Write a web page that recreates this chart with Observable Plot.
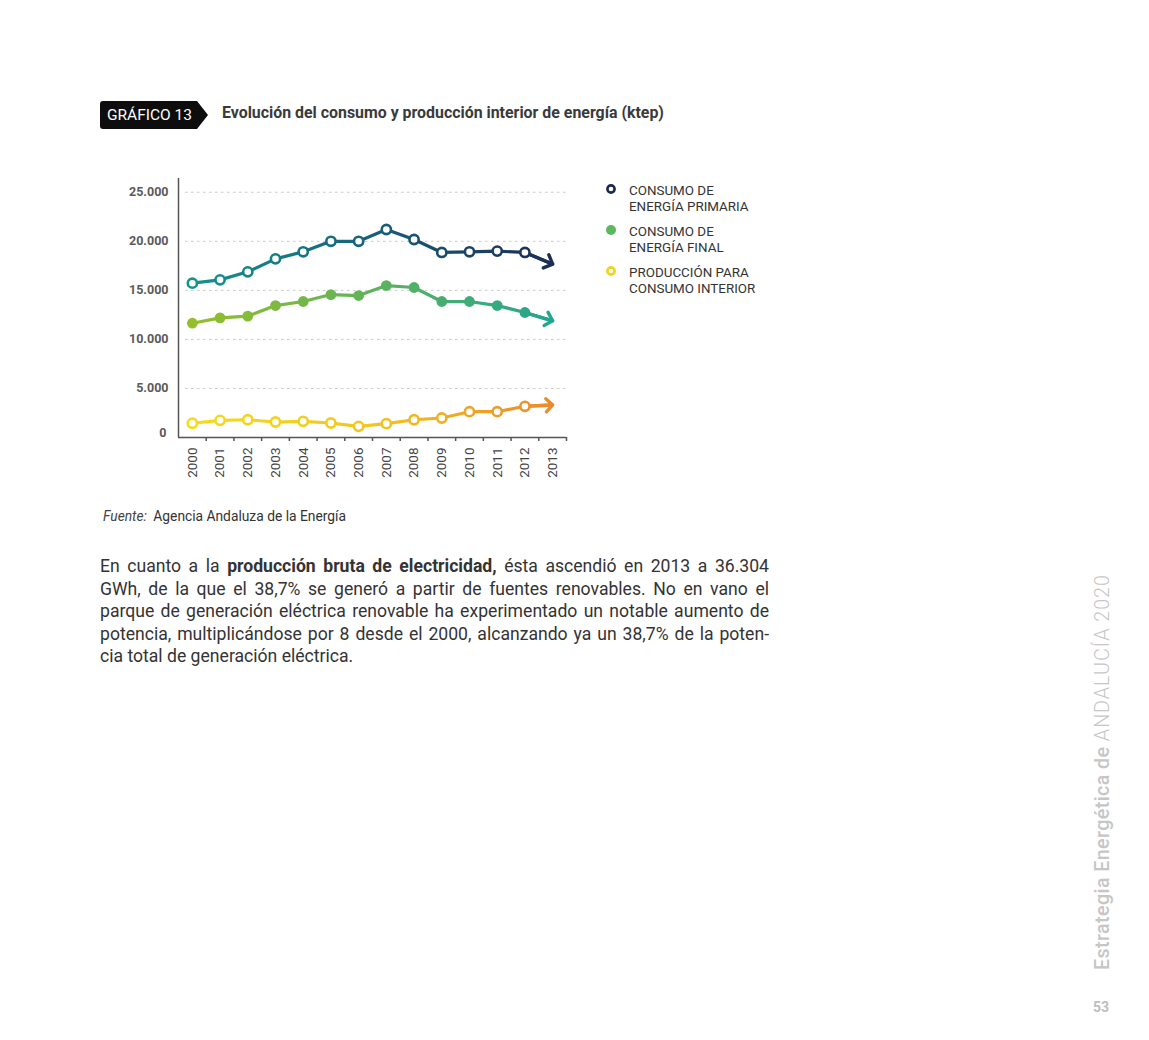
<!DOCTYPE html>
<html>
<head>
<meta charset="utf-8">
<script src="https://cdn.jsdelivr.net/npm/d3@7"></script>
<script src="https://cdn.jsdelivr.net/npm/@observablehq/plot@0.6"></script>
<style>
  html, body { margin: 0; padding: 0; background: #fff; }
  body { width: 1149px; height: 1040px; position: relative; font-family: Roboto, "Noto Sans", sans-serif; color: #333; overflow: hidden; }
  .tag { position: absolute; left: 100px; top: 101px; width: 108px; height: 28px; background: #0d0d0d; color: #fff;
         clip-path: polygon(0 0, 97px 0, 108px 14px, 97px 28px, 0 28px); border-radius: 3px 0 0 3px;
         font-size: 15.5px; line-height: 29px; padding-left: 7px; box-sizing: border-box; letter-spacing: 0px; }
  .title { position: absolute; left: 222px; top: 103px; font-size: 15.9px; font-weight: 700; color: #3a3a3a; letter-spacing: 0px; }
  #chart { position: absolute; left: 100px; top: 170px; }
  .legend { position: absolute; left: 603px; top: 183px; font-size: 13.4px; color: #333; line-height: 16px; }
  .legend .item { position: relative; padding-left: 26px; height: 41px; }
  .legend svg { position: absolute; left: 0; top: -2px; }
  .source { position: absolute; left: 103px; top: 508px; font-size: 13.8px; color: #333; }
  .source i { color: #444; margin-right: 3px; }
  .para { position: absolute; left: 100px; top: 555px; width: 669px; font-size: 17.6px; line-height: 22.6px; color: #333; }
  .para div { text-align: justify; text-align-last: justify; white-space: nowrap; }
  .para div.last { text-align-last: left; }
  .side { position: absolute; left: 1091px; top: 578px; height: 392px; writing-mode: vertical-rl; transform: rotate(180deg);
          font-size: 19.7px; color: #c6c6c6; letter-spacing: 0.4px; white-space: nowrap; }
  .side b { font-weight: 500; }
  .side span { font-weight: 300; letter-spacing: 1px; }
  .page { position: absolute; left: 1093px; top: 999px; font-size: 14px; font-weight: 700; color: #bdbdbd; }
</style>
</head>
<body>
<div class="tag">GRÁFICO 13</div>
<div class="title">Evolución del consumo y producción interior de energía (ktep)</div>
<div id="chart"></div>
<div class="legend" id="legend"></div>
<div class="source"><i>Fuente:</i> Agencia Andaluza de la Energía</div>
<div class="para">
  <div>En cuanto a la <b>producción bruta de electricidad,</b> ésta ascendió en 2013 a 36.304</div>
  <div>GWh, de la que el 38,7% se generó a partir de fuentes renovables. No en vano el</div>
  <div>parque de generación eléctrica renovable ha experimentado un notable aumento de</div>
  <div>potencia, multiplicándose por 8 desde el 2000, alcanzando ya un 38,7% de la poten-</div>
  <div class="last">cia total de generación eléctrica.</div>
</div>
<div class="side"><b>Estrategia Energética de</b> <span>ANDALUCÍA 2020</span></div>
<div class="page">53</div>
<script>
// ---- data ----
const years = [2000, 2001, 2002, 2003, 2004, 2005, 2006, 2007, 2008, 2009, 2010, 2011, 2012, 2013];
const primaria = [15730, 16070, 16890, 18210, 18930, 20000, 20000, 21200, 20180, 18860, 18930, 19000, 18860, 17670];
const final = [11650, 12190, 12370, 13450, 13860, 14570, 14470, 15490, 15290, 13860, 13860, 13450, 12740, 11890];
const produccion = [1450, 1750, 1810, 1580, 1650, 1480, 1140, 1410, 1810, 1990, 2630, 2630, 3180, 3320];
const seriesNames = ["CONSUMO DE ENERGÍA PRIMARIA", "CONSUMO DE ENERGÍA FINAL", "PRODUCCIÓN PARA CONSUMO INTERIOR"];
const legendLines = [["CONSUMO DE", "ENERGÍA PRIMARIA"], ["CONSUMO DE", "ENERGÍA FINAL"], ["PRODUCCIÓN PARA", "CONSUMO INTERIOR"]];
const yTicks = [0, 5000, 10000, 15000, 20000, 25000];

// ---- styles ----
const gradients = {
  gPrim: ["#13948f", "#17607a", "#1b2c55"],
  gFin: ["#94bf2a", "#5fb35c", "#22a590"],
  gProd: ["#f5dc1a", "#f2c51f", "#ec8a2a"]
};
const styles = [
  {grad: "gPrim", r: 4.6, legendColor: "#1b2a4e", open: true},
  {grad: "gFin", r: 5.4, legendColor: "#5cb85c", open: false},
  {grad: "gProd", r: 4.6, legendColor: "#f2d21a", open: true}
];

const allSeries = [primaria, final, produccion];
const rows = [];
allSeries.forEach((vals, si) => vals.forEach((v, i) => rows.push({series: seriesNames[si], si, year: years[i], value: v})));
const arrowRows = allSeries.map((vals, si) => ({si, x1: years[years.length - 2], y1: vals[vals.length - 2], x2: years[years.length - 1], y2: vals[vals.length - 1]}));
const bounds = years.map(y => y + 0.5);

const es = d3.formatLocale({decimal: ",", thousands: ".", grouping: [3], currency: ["", " €"]});
const fmt = es.format(",");

const marks = [
  Plot.ruleY(yTicks.filter(v => v > 0), {stroke: "#c9c9c9", strokeDasharray: "2.5,3.5", strokeWidth: 1, insetLeft: 7}),
];
styles.forEach((st, si) => {
  const url = `url(#${st.grad})`;
  const data = rows.filter(d => d.si === si);
  marks.push(Plot.line(data, {x: "year", y: "value", stroke: url, strokeWidth: 3.2, curve: "linear"}));
  marks.push(Plot.arrow([arrowRows[si]], {x1: "x1", y1: "y1", x2: "x2", y2: "y2", stroke: url, strokeWidth: 3.4, headLength: 12, headAngle: 90, bend: 0}));
  const dotData = data.slice(0, data.length - 1);
  if (st.open) {
    marks.push(Plot.dot(dotData, {x: "year", y: "value", r: st.r, fill: "white", stroke: url, strokeWidth: 2.6}));
  } else {
    marks.push(Plot.dot(dotData, {x: "year", y: "value", r: st.r, fill: url, stroke: "none"}));
  }
});
marks.push(
  Plot.ruleY([0], {stroke: "#555", strokeWidth: 1.5}),
  Plot.ruleX([years[0] - 0.5], {stroke: "#555", strokeWidth: 1.5}),
  Plot.axisX(bounds, {tickSize: 4, tickFormat: () => "", stroke: "#555", strokeWidth: 1.5}),
  Plot.axisX(years, {tickSize: 0, tickPadding: 10, tickRotate: -90, tickFormat: d => String(d), fontSize: 13.5, fill: "#444"}),
  Plot.axisY(yTicks.filter(v => v > 0), {tickSize: 0, tickPadding: 10, tickFormat: fmt, fontSize: 12.5, fontWeight: 700, fill: "#5a5a5a"}),
  Plot.axisY([0], {tickSize: 0, tickPadding: 12, dy: -5, tickFormat: fmt, fontSize: 12.5, fontWeight: 700, fill: "#5a5a5a"})
);

const chart = Plot.plot({
  width: 480,
  height: 320,
  marginLeft: 78,
  marginRight: 14,
  marginTop: 8,
  marginBottom: 53,
  style: {fontFamily: "Roboto, sans-serif", background: "transparent", overflow: "visible"},
  x: {type: "linear", domain: [years[0] - 0.5, years[years.length - 1] + 0.5], axis: null},
  y: {domain: [0, 26400], axis: null},
  marks
});

// gradients along x
const xs = chart.scale("x");
const gx1 = xs.apply(years[0]);
const gx2 = xs.apply(years[years.length - 1]);
const defs = d3.select(chart).insert("defs", ":first-child");
Object.entries(gradients).forEach(([id, cols]) => {
  const g = defs.append("linearGradient").attr("id", id).attr("gradientUnits", "userSpaceOnUse")
    .attr("x1", gx1).attr("x2", gx2).attr("y1", 0).attr("y2", 0);
  cols.forEach((c, i) => g.append("stop").attr("offset", i / (cols.length - 1)).attr("stop-color", c));
});
document.getElementById("chart").appendChild(chart);

// legend
const leg = document.getElementById("legend");
legendLines.forEach((lines, i) => {
  const st = styles[i];
  const item = document.createElement("div");
  item.className = "item";
  const c = st.open
    ? `<circle cx="8" cy="8" r="3.6" fill="white" stroke="${st.legendColor}" stroke-width="2.6"/>`
    : `<circle cx="8" cy="8" r="5" fill="${st.legendColor}"/>`;
  item.innerHTML = `<svg width="16" height="16">${c}</svg>${lines.join("<br>")}`;
  leg.appendChild(item);
});
</script>
</body>
</html>
